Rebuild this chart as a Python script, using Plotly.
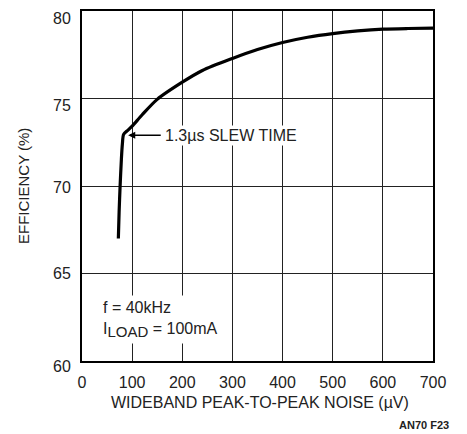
import plotly.graph_objects as go

noise_uv = [72.5, 74, 76, 78.5, 80.5, 83, 90, 100, 120, 150, 200, 240, 300, 350, 400, 450, 500, 550, 600, 650, 700]
efficiency = [67.0, 68.5, 70.0, 71.5, 72.4, 72.95, 73.15, 73.42, 74.07, 74.95, 75.93, 76.6, 77.29, 77.8, 78.2, 78.5, 78.71, 78.86, 78.96, 79.0, 79.02]

x_ticks = [0, 100, 200, 300, 400, 500, 600, 700]
y_ticks = [60, 65, 70, 75, 80]
y_label_shift = [-5, 0, -1, -7, -7]  # pixel nudges of the y tick labels, as in the original

FONT = "Liberation Sans, Arial, sans-serif"
TXT = "#222"

fig = go.Figure()
fig.add_trace(go.Scatter(
    x=noise_uv, y=efficiency, mode="lines",
    line=dict(color="black", width=3.2, shape="spline", smoothing=0.8),
    hoverinfo="skip", showlegend=False,
))

fig.update_xaxes(
    range=[0, 700], tickvals=x_ticks, ticktext=[str(v) for v in x_ticks],
    showgrid=True, gridcolor="#222", gridwidth=1,
    showline=True, linecolor="black", linewidth=2, mirror=True,
    zeroline=False, ticks="", ticklen=0, ticklabelstandoff=6,
    tickfont=dict(size=16, color=TXT, family=FONT),
)
fig.update_yaxes(
    range=[60, 80], tickvals=y_ticks, showticklabels=False,
    showgrid=True, gridcolor="#222", gridwidth=1,
    showline=True, linecolor="black", linewidth=2, mirror=True,
    zeroline=False, ticks="", ticklen=0,
)

for v, s in zip(y_ticks, y_label_shift):
    fig.add_annotation(
        x=0, y=v, xref="paper", yref="y", xanchor="right", yanchor="middle",
        xshift=-9, yshift=s, text=str(v), showarrow=False,
        font=dict(size=16, color=TXT, family=FONT),
    )

# axis titles
fig.add_annotation(
    x=0.506, y=-0.119, xref="paper", yref="paper", xanchor="center", yanchor="middle",
    text="WIDEBAND PEAK-TO-PEAK NOISE (\u00b5V)", showarrow=False,
    font=dict(size=16, color=TXT, family=FONT),
)
fig.add_annotation(
    x=-0.168, y=0.5, xref="paper", yref="paper", xanchor="center", yanchor="middle",
    text="EFFICIENCY (%)", textangle=-90, showarrow=False,
    font=dict(size=15, color=TXT, family=FONT),
)

# arrow
fig.add_annotation(
    x=92, y=72.9, xref="x", yref="y",
    ax=160, ay=72.9, axref="x", ayref="y",
    text="", showarrow=True, arrowhead=2, arrowsize=1.1, arrowwidth=1.3, arrowcolor="black",
)
fig.add_annotation(
    x=162, y=72.9, xref="x", yref="y", xanchor="left", yanchor="middle",
    text="1.3\u00b5s SLEW TIME", showarrow=False, bgcolor="white", borderpad=1,
    font=dict(size=16, color=TXT, family=FONT),
)
fig.add_annotation(
    x=34, y=62.4, xref="x", yref="y", xanchor="left", yanchor="middle",
    text="f = 40kHz<br>I<sub><span style='font-size:15px'>LOAD</span></sub> = 100mA", align="left", showarrow=False,
    bgcolor="white", borderpad=3,
    font=dict(size=16, color=TXT, family=FONT),
)
fig.add_annotation(
    x=1.051, y=-0.182, xref="paper", yref="paper", xanchor="right", yanchor="middle",
    text="<b>AN70 F23</b>", showarrow=False,
    font=dict(size=11, color=TXT, family=FONT),
)

fig.update_layout(
    width=459, height=426,
    margin=dict(l=74, r=34, t=1, b=73),
    paper_bgcolor="white", plot_bgcolor="white",
    font=dict(family=FONT),
)

fig.write_html("out.html")
